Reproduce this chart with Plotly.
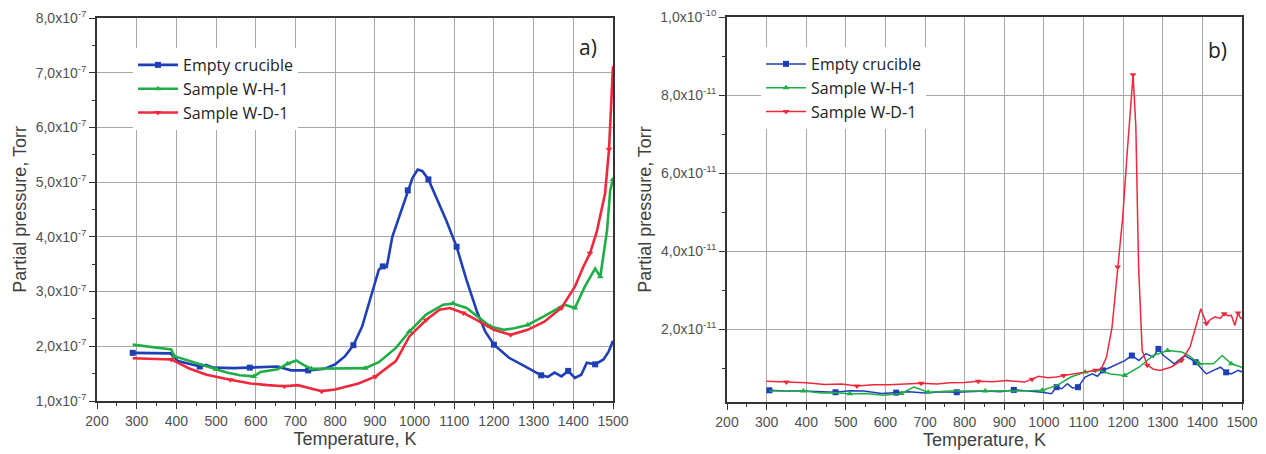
import plotly.graph_objects as go

# ---------------- Panel a) values (pressure in units of 1e-7 Torr) ----------------
T_empty_a = [290, 385, 404, 430, 459, 475, 493, 544, 585, 621, 655, 689, 732, 774, 800, 825, 846, 868, 893, 910,
             920, 930, 944, 966, 983, 995, 1008, 1020, 1035, 1050, 1062, 1080, 1106, 1131, 1157, 1178, 1200, 1238,
             1276, 1300, 1319, 1336, 1353, 1370, 1387, 1404, 1420, 1434, 1455, 1476, 1489, 1500]
P_empty_a = [1.88, 1.87, 1.73, 1.68, 1.63, 1.66, 1.61, 1.60, 1.61, 1.62, 1.63, 1.56, 1.56, 1.59, 1.67, 1.82, 2.02,
             2.36, 2.97, 3.40, 3.46, 3.45, 4.00, 4.48, 4.85, 5.08, 5.23, 5.20, 5.05, 4.80, 4.60, 4.30, 3.82, 3.21,
             2.64, 2.27, 2.03, 1.79, 1.64, 1.55, 1.47, 1.44, 1.52, 1.45, 1.55, 1.42, 1.48, 1.70, 1.67, 1.76, 1.90, 2.10]

T_wh_a = [290, 387, 395, 434, 468, 500, 527, 560, 595, 612, 655, 680, 702, 720, 740, 791, 840, 876, 910, 953, 987,
          1029, 1072, 1097, 1131, 1157, 1191, 1225, 1251, 1285, 1327, 1378, 1404, 1429, 1455, 1468, 1485, 1493, 1500]
P_wh_a = [2.03, 1.94, 1.82, 1.73, 1.64, 1.58, 1.52, 1.47, 1.45, 1.53, 1.58, 1.68, 1.74, 1.66, 1.59, 1.59, 1.59,
          1.60, 1.71, 1.97, 2.27, 2.58, 2.76, 2.78, 2.70, 2.55, 2.36, 2.30, 2.33, 2.39, 2.55, 2.76, 2.70, 3.09,
          3.42, 3.27, 4.12, 4.85, 5.05]

T_wd_a = [290, 387, 434, 476, 536, 587, 630, 672, 706, 740, 766, 800, 859, 902, 953, 987, 1029, 1063, 1089, 1123,
          1157, 1200, 1242, 1285, 1327, 1370, 1404, 1425, 1442, 1459, 1480, 1490, 1500]
P_wd_a = [1.78, 1.76, 1.59, 1.48, 1.39, 1.32, 1.29, 1.27, 1.29, 1.22, 1.18, 1.21, 1.32, 1.45, 1.73, 2.18, 2.48,
          2.67, 2.70, 2.61, 2.48, 2.30, 2.21, 2.30, 2.45, 2.70, 3.09, 3.45, 3.70, 4.09, 4.79, 5.60, 7.12]

# ---------------- Panel b) values (pressure in units of 1e-11 Torr) ----------------
T_empty_b = [307, 350, 393, 430, 474, 510, 546, 590, 627, 660, 699, 740, 780, 815, 852, 890, 924, 960, 996, 1019,
             1032, 1045, 1059, 1072, 1086, 1104, 1122, 1135, 1149, 1168, 1186, 1204, 1222, 1240, 1258, 1276, 1289,
             1302, 1329, 1356, 1383, 1410, 1428, 1446, 1460, 1473, 1490, 1500]
P_empty_b = [0.44, 0.42, 0.42, 0.40, 0.39, 0.43, 0.42, 0.36, 0.38, 0.40, 0.37, 0.40, 0.39, 0.41, 0.42, 0.40, 0.45,
             0.42, 0.39, 0.35, 0.52, 0.48, 0.61, 0.50, 0.52, 0.78, 0.86, 0.80, 0.95, 1.03, 1.12, 1.20, 1.33, 1.20,
             1.38, 1.29, 1.50, 1.33, 1.12, 1.33, 1.16, 0.86, 0.95, 1.03, 0.90, 0.86, 0.95, 0.91]

T_wh_b = [307, 350, 393, 438, 475, 510, 550, 595, 640, 672, 690, 708, 762, 810, 852, 900, 942, 996, 1032, 1068,
          1104, 1141, 1168, 1204, 1240, 1276, 1312, 1348, 1366, 1392, 1428, 1450, 1473, 1500]
P_wh_b = [0.42, 0.42, 0.42, 0.37, 0.38, 0.35, 0.36, 0.31, 0.36, 0.52, 0.45, 0.39, 0.42, 0.41, 0.42, 0.43, 0.42,
          0.44, 0.56, 0.78, 0.91, 0.95, 0.86, 0.82, 1.03, 1.33, 1.46, 1.42, 1.33, 1.12, 1.12, 1.33, 1.12, 1.03]

T_wd_b = [300, 350, 400, 447, 490, 528, 570, 609, 650, 690, 730, 762, 800, 834, 870, 906, 951, 970, 987, 1010,
          1032, 1050, 1068, 1090, 1114, 1130, 1145, 1158, 1172, 1186, 1199, 1210, 1218, 1225, 1232, 1239, 1248,
          1261, 1277, 1293, 1320, 1347, 1369, 1387, 1396, 1410, 1420, 1432, 1445, 1455, 1465, 1473, 1482, 1490,
          1496, 1500]
P_wd_b = [0.67, 0.65, 0.63, 0.59, 0.60, 0.55, 0.58, 0.58, 0.60, 0.62, 0.60, 0.63, 0.64, 0.67, 0.66, 0.69, 0.65,
          0.72, 0.80, 0.76, 0.78, 0.82, 0.85, 0.88, 0.91, 0.95, 0.99, 1.29, 2.06, 3.60, 4.88, 6.50, 7.73, 8.52,
          7.20, 3.60, 1.46, 1.08, 0.98, 0.95, 1.03, 1.20, 1.55, 2.23, 2.53, 2.15, 2.25, 2.32, 2.28, 2.40, 2.35,
          2.36, 2.10, 2.42, 2.30, 2.27]

series_names = ["Empty crucible", "Sample W-H-1", "Sample W-D-1"]
x_ticks = [200, 300, 400, 500, 600, 700, 800, 900, 1000, 1100, 1200, 1300, 1400, 1500]
y_ticks_a = [1, 2, 3, 4, 5, 6, 7, 8]
y_ticktext_a = ["%d,0x10<sup>-7</sup>" % v for v in y_ticks_a]
y_ticks_b = [2, 4, 6, 8, 10]
y_ticktext_b = ["2,0x10<sup>-11</sup>", "4,0x10<sup>-11</sup>", "6,0x10<sup>-11</sup>",
                "8,0x10<sup>-11</sup>", "1,0x10<sup>-10</sup>"]

colors = ["#1f3fb8", "#1fae45", "#f0283c"]
symbols = ["square", "triangle-up", "triangle-down"]

W, H = 1266, 454
fig = go.Figure()

data_a = [(T_empty_a, P_empty_a), (T_wh_a, P_wh_a), (T_wd_a, P_wd_a)]
data_b = [(T_empty_b, P_empty_b), (T_wh_b, P_wh_b), (T_wd_b, P_wd_b)]

for i, (t, p) in enumerate(data_a):
    fig.add_trace(go.Scatter(
        x=t, y=p, name=series_names[i], mode="lines+markers",
        line=dict(color=colors[i], width=2.6),
        marker=dict(symbol=symbols[i], size=6, color=colors[i], maxdisplayed=14),
        xaxis="x", yaxis="y", legend="legend"))

for i, (t, p) in enumerate(data_b):
    fig.add_trace(go.Scatter(
        x=t, y=p, name=series_names[i], mode="lines+markers",
        line=dict(color=colors[i], width=1.5),
        marker=dict(symbol=symbols[i], size=6, color=colors[i], maxdisplayed=14),
        xaxis="x2", yaxis="y2", legend="legend2"))

tickfont = dict(family="Liberation Sans, Arial, sans-serif", size=14, color="#505050")
titlefont = dict(family="Liberation Sans, Arial, sans-serif", size=18, color="#404040")
legfont = dict(family="Open Sans, sans-serif", size=16, color="#222")

common_x = dict(range=[200, 1500], tickvals=x_ticks, ticks="outside", ticklen=6, tickwidth=1.2,
                tickcolor="#333", showline=True, linecolor="#333", linewidth=1.5, mirror=True,
                showgrid=True, gridcolor="#a8a8a8", gridwidth=1, zeroline=False, automargin=False,
                minor=dict(dtick=50, ticks="outside", ticklen=3, tickcolor="#333", showgrid=False),
                tickfont=tickfont, title=dict(text="Temperature, K", font=titlefont, standoff=4))

common_y = dict(ticks="outside", ticklen=6, tickwidth=1.2, tickcolor="#333", showline=True, linecolor="#333",
                linewidth=1.5, mirror=True, showgrid=True, gridcolor="#a8a8a8", zeroline=False,
                automargin=False, tickfont=tickfont,
                title=dict(text="Partial pressure, Torr", font=titlefont, standoff=4))


def px(a, b):
    return [a / W, b / W]


def py(top, bottom):
    return [1 - bottom / H, 1 - top / H]


fig.update_layout(
    width=W, height=H, margin=dict(l=0, r=0, t=0, b=0),
    paper_bgcolor="white", plot_bgcolor="white", showlegend=True,
    xaxis=dict(common_x, domain=px(97, 613), anchor="y"),
    yaxis=dict(common_y, range=[1, 8], domain=py(18, 401), anchor="x", tickvals=y_ticks_a,
               ticktext=y_ticktext_a,
               minor=dict(dtick=0.5, tick0=0, ticks="outside", ticklen=3, tickcolor="#333", showgrid=False)),
    xaxis2=dict(common_x, domain=px(727, 1242), anchor="y2"),
    yaxis2=dict(common_y, range=[0.14, 10], domain=py(17, 402), anchor="x2", tickvals=y_ticks_b,
                ticktext=y_ticktext_b,
                minor=dict(dtick=1, tick0=0, ticks="outside", ticklen=3, tickcolor="#333", showgrid=False)),
    legend=dict(x=133 / W, y=1 - 48 / H, xanchor="left", yanchor="top", bgcolor="white",
                font=legfont, tracegroupgap=0, itemwidth=40),
    legend2=dict(x=761 / W, y=1 - 47 / H, xanchor="left", yanchor="top", bgcolor="white",
                 font=legfont, tracegroupgap=0, itemwidth=40),
    annotations=[
        dict(text="a)", x=588 / W, y=1 - 47 / H, xref="paper", yref="paper", showarrow=False,
             xanchor="center", yanchor="middle",
             font=dict(family="Open Sans, sans-serif", size=21, color="#222")),
        dict(text="b)", x=1217 / W, y=1 - 50 / H, xref="paper", yref="paper", showarrow=False,
             xanchor="center", yanchor="middle",
             font=dict(family="Open Sans, sans-serif", size=21, color="#222")),
    ],
)

fig.write_html("out.html", config={"displayModeBar": False},
               post_script="document.body.style.margin='0';document.body.style.overflow='hidden';")
